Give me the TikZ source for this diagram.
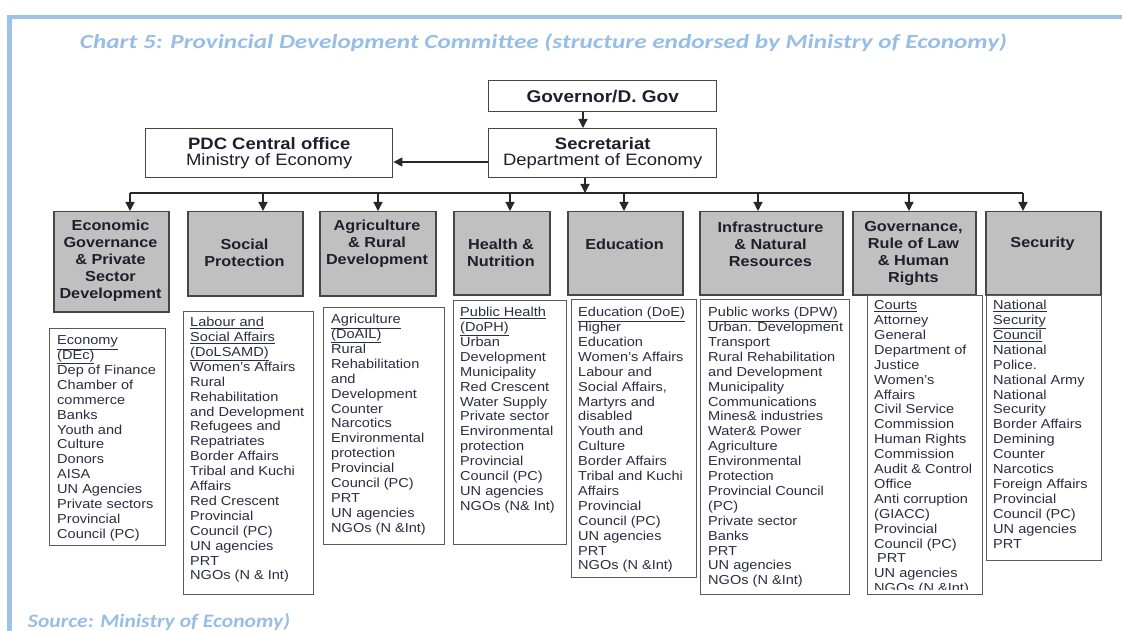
\documentclass[tikz,border=0pt]{standalone}
\usepackage{fontspec}
\usepackage{graphicx}
\setmainfont{Liberation Sans}[FakeStretch=1.12]
\newfontfamily\capfont{Carlito}
\usetikzlibrary{arrows.meta}

\definecolor{framec}{RGB}{157,195,230}
\definecolor{capc}{RGB}{150,190,230}
\definecolor{boxline}{RGB}{70,70,70}
\definecolor{listline}{RGB}{90,90,90}
\definecolor{grpfill}{RGB}{192,192,192}
\definecolor{linec}{RGB}{40,40,40}
\definecolor{headc}{RGB}{30,30,45}
\definecolor{txtc}{RGB}{45,45,65}

% underlined entry that keeps the normal line spacing
\newcommand\ulentry[1]{\smash{\underline{#1}}\vphantom{(Ag)}}

\tikzset{
  topbox/.style={draw=boxline, line width=1.4pt, fill=white, inner sep=0pt,
    anchor=north west, align=center, text=headc,
    font=\fontsize{16.5}{16.5}\selectfont},
  grpbox/.style={draw=boxline, line width=1.5pt, fill=grpfill, inner sep=0pt,
    anchor=north west},
  grptext/.style={font=\fontsize{14.5}{17}\selectfont\bfseries, align=center,
    text=headc, inner sep=0pt},
  listbox/.style={draw=listline, line width=1.3pt, fill=white, inner sep=0pt,
    anchor=north west},
  listtext/.style={align=left, text=txtc, inner sep=0pt, anchor=north west,
    font=\fontsize{13}{14.9}\selectfont},
  link/.style={draw=linec, line width=1.3pt},
  arr/.style={link, -{Triangle[width=9pt,length=9pt]}},
  caption/.style={inner sep=0pt, text=capc}
}

\begin{document}
\begin{tikzpicture}[x=1pt,y=-1pt]
\useasboundingbox (0,0) rectangle (1122,631);

% page frame
\fill[framec] (7,15) rectangle (1122,19);
\fill[framec] (7,15) rectangle (12,631);

% caption and source
\node[caption] (title) at (543.5,43)
  {\resizebox{927pt}{\height}{\capfont\bfseries\itshape\fontsize{20}{24}\selectfont
   Chart 5: Provincial Development Committee (structure endorsed by Ministry of Economy)}};
\node[caption] (source) at (159,622)
  {\resizebox{262pt}{\height}{\capfont\bfseries\itshape\fontsize{19}{23}\selectfont
   Source: Ministry of Economy)}};

% top level
\node[topbox, minimum width=228pt, minimum height=31pt] (gov) at (488,80)
  {\fontsize{17}{17}\selectfont\bfseries Governor/D. Gov};
\node[topbox, minimum width=228pt, minimum height=49pt] (sec) at (488,128)
  {\textbf{Secretariat}\\Department of Economy};
\node[topbox, minimum width=247pt, minimum height=49pt] (pdc) at (145,128)
  {\textbf{PDC Central office}\\Ministry of Economy};

\coordinate (gs) at (583,0);
\coordinate (ps) at (0,162);
\coordinate (sj) at (585,193);
\draw[arr] (gov.south -| gs) -- (sec.north -| gs);
\draw[arr] (sec.west |- ps) -- (pdc.east |- ps);

% sector boxes
\node[grpbox, minimum width=115pt, minimum height=100pt] (g1) at (53,211) {};
\node[grpbox, minimum width=115pt, minimum height=84pt] (g2) at (187,211) {};
\node[grpbox, minimum width=116pt, minimum height=84pt] (g3) at (319,211) {};
\node[grpbox, minimum width=96pt,  minimum height=83pt] (g4) at (453,211) {};
\node[grpbox, minimum width=115pt, minimum height=83pt] (g5) at (567,211) {};
\node[grpbox, minimum width=143pt, minimum height=83pt] (g6) at (699,211) {};
\node[grpbox, minimum width=123pt, minimum height=83pt] (g7) at (852,211) {};
\node[grpbox, minimum width=115pt, minimum height=83pt] (g8) at (985,211) {};

\node[grptext] (g1t) at (110.5,261) {Economic\\Governance\\\& Private\\Sector\\Development};
\node[grptext] (g2t) at (244.5,253) {Social\\Protection};
\node[grptext] (g3t) at (377,244) {Agriculture\\\& Rural\\Development};
\node[grptext] (g4t) at (501,252.5) {Health \&\\Nutrition};
\node[grptext] (g5t) at (624.5,244) {Education};
\node[grptext] (g6t) at (770.5,244.5) {Infrastructure\\\& Natural\\Resources};
\node[grptext] (g7t) at (913.5,253) {Governance,\\Rule of Law\\\& Human\\Rights};
\node[grptext] (g8t) at (1042.5,244) {Security};

% distribution bar
\coordinate (b1) at (130,193);
\coordinate (b2) at (263,193);
\coordinate (b3) at (378,193);
\coordinate (b4) at (510,193);
\coordinate (b5) at (624,193);
\coordinate (b6) at (758,193);
\coordinate (b7) at (909,193);
\coordinate (b8) at (1023,193);
\draw[arr] (sec.south -| sj) -- (sj);
\draw[link] (b1) -- (b8);
\foreach \i in {1,...,8} {
  \draw[arr] (b\i) -- (b\i |- g\i.north);
}

% member lists
\node[listbox, minimum width=116pt, minimum height=217pt] (l1) at (49,328) {};
\node[listbox, minimum width=130pt, minimum height=283pt] (l2) at (183,311) {};
\node[listbox, minimum width=121pt, minimum height=237pt] (l3) at (323,307) {};
\node[listbox, minimum width=113pt, minimum height=244pt] (l4) at (453,300) {};
\node[listbox, minimum width=125pt, minimum height=278pt] (l5) at (571,299) {};
\node[listbox, minimum width=149pt, minimum height=295pt] (l6) at (700,299) {};
\node[listbox, minimum width=115pt, minimum height=299pt] (l7) at (867,295) {};
\node[listbox, minimum width=115pt, minimum height=265pt] (l8) at (986,295) {};

\node[listtext] (l1t) at (57,335) {\ulentry{Economy}\\\ulentry{(DEc)}\\Dep of Finance\\Chamber of\\commerce\\Banks\\Youth and\\Culture\\Donors\\AISA\\UN Agencies\\Private sectors\\Provincial\\Council (PC)};

\node[listtext] (l2t) at (190,317) {\ulentry{Labour and}\\\ulentry{Social Affairs}\\\ulentry{(DoLSAMD)}\\Women's Affairs\\Rural\\Rehabilitation\\and Development\\Refugees and\\Repatriates\\Border Affairs\\Tribal and Kuchi\\Affairs\\Red Crescent\\Provincial\\Council (PC)\\UN agencies\\PRT\\NGOs (N \& Int)};

\node[listtext] (l3t) at (331,314) {\ulentry{Agriculture}\\\ulentry{(DoAIL)}\\Rural\\Rehabilitation\\and\\Development\\Counter\\Narcotics\\Environmental\\protection\\Provincial\\Council (PC)\\PRT\\UN agencies\\NGOs (N \&Int)};

\node[listtext] (l4t) at (460,307) {\ulentry{Public Health}\\\ulentry{(DoPH)}\\Urban\\Development\\Municipality\\Red Crescent\\Water Supply\\Private sector\\Environmental\\protection\\Provincial\\Council (PC)\\UN agencies\\NGOs (N\& Int)};

\node[listtext] (l5t) at (578,307) {\ulentry{Education (DoE)}\\Higher\\Education\\Women's Affairs\\Labour and\\Social Affairs,\\Martyrs and\\disabled\\Youth and\\Culture\\Border Affairs\\Tribal and Kuchi\\Affairs\\Provincial\\Council (PC)\\UN agencies\\PRT\\NGOs (N \&Int)};

\node[listtext] (l6t) at (708,307) {\ulentry{Public works (DPW)}\\Urban. Development\\Transport\\Rural Rehabilitation\\and Development\\Municipality\\Communications\\Mines\& industries\\Water\& Power\\Agriculture\\Environmental\\Protection\\Provincial Council\\(PC)\\Private sector\\Banks\\PRT\\UN agencies\\NGOs (N \&Int)};

% the last entry of this list runs past the bottom edge of its box
\begin{scope}
  \clip (l7.north west) rectangle ([yshift=6pt]l7.south east);
  \node[listtext] (l7t) at (874,300) {\ulentry{Courts}\\Attorney\\General\\Department of\\Justice\\Women's\\Affairs\\Civil Service\\Commission\\Human Rights\\Commission\\Audit \& Control\\Office\\Anti corruption\\(GIACC)\\Provincial\\Council (PC)\\\hspace{3pt}PRT\\UN agencies\\NGOs (N \&Int)};
\end{scope}

\node[listtext] (l8t) at (993,300) {\ulentry{National}\\\ulentry{Security}\\\ulentry{Council}\\National\\Police.\\National Army\\National\\Security\\Border Affairs\\Demining\\Counter\\Narcotics\\Foreign Affairs\\Provincial\\Council (PC)\\UN agencies\\PRT};

\end{tikzpicture}
\end{document}
